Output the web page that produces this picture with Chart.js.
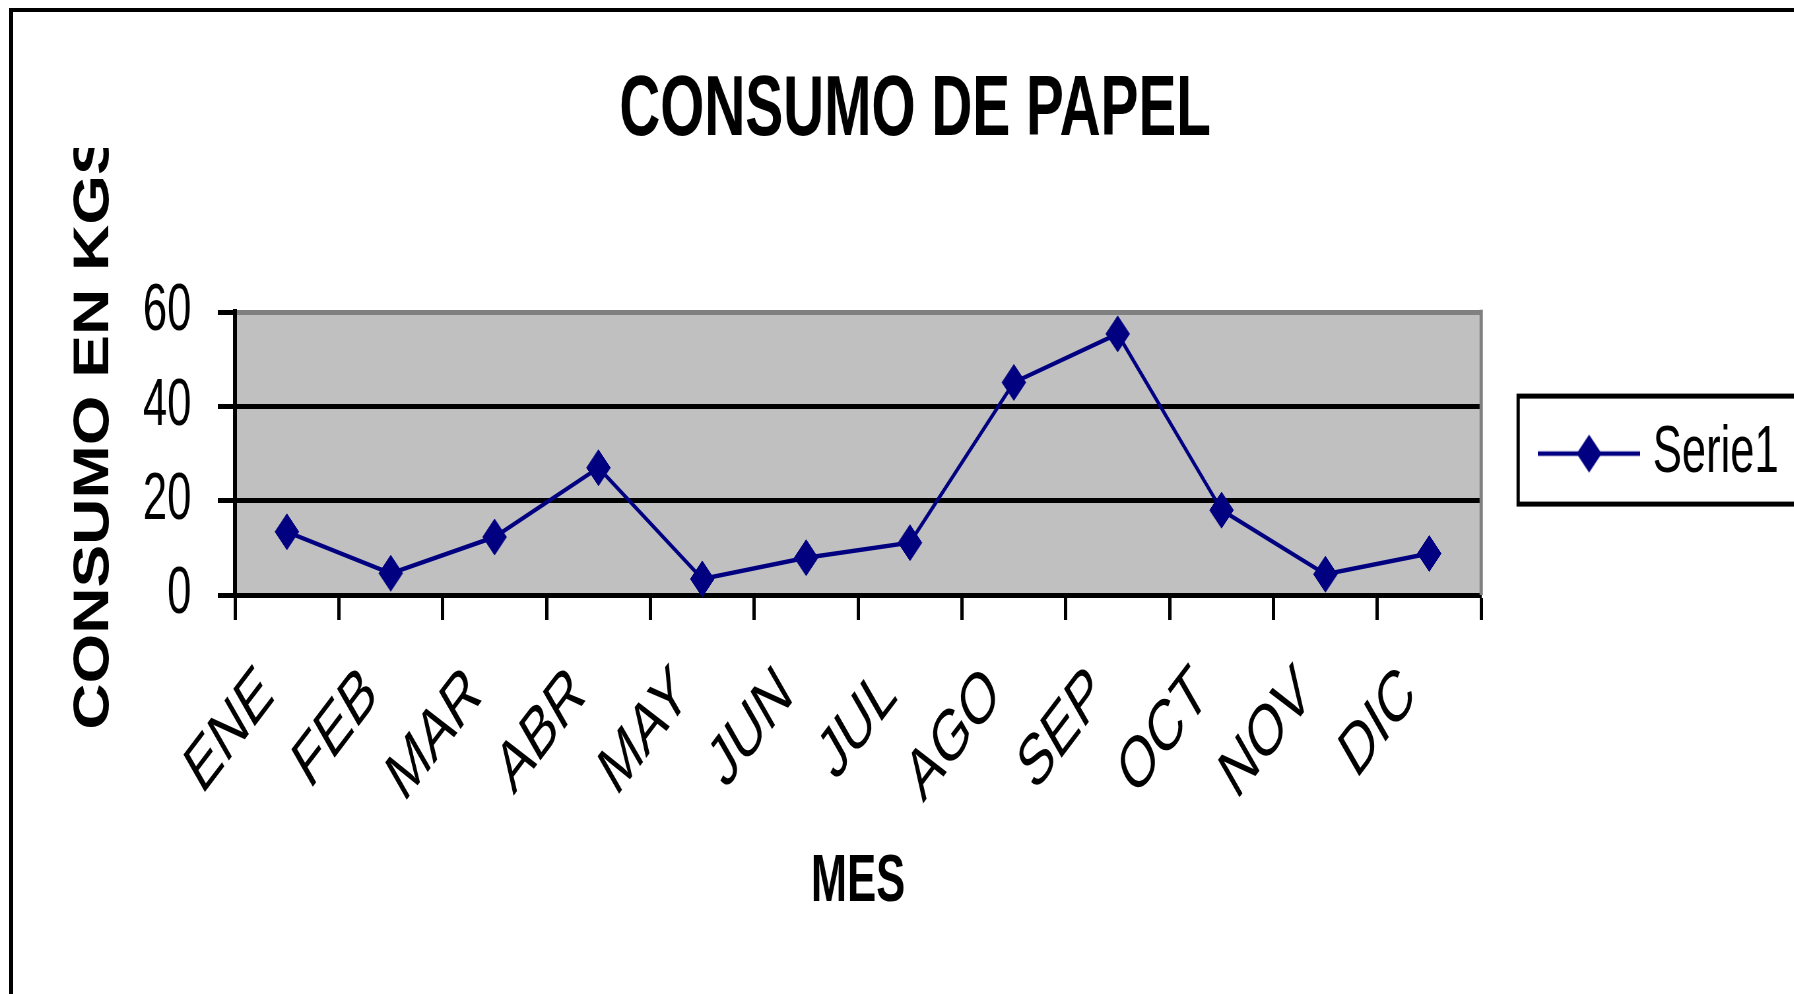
<!DOCTYPE html>
<html lang="es">
  <head>
    <meta charset="UTF-8" />
    <title>Consumo de papel</title>
    <script src="https://cdn.jsdelivr.net/npm/chart.js"></script>
    <style>
      html, body { margin: 0; padding: 0; background: #fff; overflow: hidden; }
      #marco { position: relative; width: 1794px; height: 994px; overflow: hidden; }
      #borde {
        position: absolute; left: 9px; top: 8px; width: 2000px; height: 2000px;
        border: 4px solid #000;
      }
      #grafico { position: absolute; left: 0; top: 0; transform: scaleX(0.66); transform-origin: 0 0; }
    </style>
  </head>
  <body>
    <div id="marco">
      <div id="borde"></div>
      <canvas id="grafico"></canvas>
    </div>

    <script>
      // datos
      const meses = ["ENE", "FEB", "MAR", "ABR", "MAY", "JUN", "JUL", "AGO", "SEP", "OCT", "NOV", "DIC"];
      const consumo = [13.4, 4.6, 12.3, 27.0, 3.4, 7.9, 11.1, 45.1, 55.4, 18.0, 4.4, 8.8];
      const yTicks = [0, 20, 40, 60];
      const titulo = "CONSUMO DE PAPEL";
      const tituloY = "CONSUMO EN KGS";
      const tituloX = "MES";
      const serie = "Serie1";

      // el grafico original esta "aplastado" en horizontal
      const SQ = 0.66;
      const W = Math.round(1830 / SQ);
      const H = 994;
      const FAM = "'Liberation Sans', Arial, sans-serif";
      const AZUL = "#000080";

      const canvas = document.getElementById("grafico");
      canvas.width = W;
      canvas.height = H;

      // muestra de la leyenda: linea + rombo
      const muestra = document.createElement("canvas");
      muestra.width = 155;
      muestra.height = 40;
      const m = muestra.getContext("2d");
      m.strokeStyle = AZUL;
      m.lineWidth = 4.5;
      m.beginPath();
      m.moveTo(0, 20);
      m.lineTo(155, 20);
      m.stroke();
      m.fillStyle = AZUL;
      m.beginPath();
      m.moveTo(77.5, 1);
      m.lineTo(96.5, 20);
      m.lineTo(77.5, 39);
      m.lineTo(58.5, 20);
      m.closePath();
      m.fill();

      // fondo gris y borde del area de trazado
      const areaPlugin = {
        id: "area",
        beforeDraw(chart) {
          const { ctx, chartArea: a } = chart;
          ctx.save();
          ctx.fillStyle = "#C0C0C0";
          ctx.fillRect(a.left, a.top, a.right - a.left, a.bottom - a.top);
          ctx.restore();
        },
        beforeDatasetsDraw(chart) {
          const { ctx, chartArea: a } = chart;
          ctx.save();
          ctx.strokeStyle = "#808080";
          ctx.lineWidth = 5;
          ctx.beginPath();
          ctx.moveTo(a.right, a.top - 2.5);
          ctx.lineTo(a.right, a.bottom);
          ctx.stroke();
          ctx.restore();
        },
        afterDraw(chart) {
          const ctx = chart.ctx;
          // titulo del eje Y (recortado arriba como en el original)
          ctx.save();
          ctx.beginPath();
          ctx.rect(0, 148, 400, H);
          ctx.clip();
          ctx.translate(143, 431);
          ctx.rotate(-Math.PI / 2);
          ctx.scale(1, 1.2);
          ctx.font = "bold 64px " + FAM;
          ctx.fillStyle = "#000";
          ctx.textAlign = "center";
          ctx.textBaseline = "middle";
          ctx.fillText(tituloY, 0, 0);
          ctx.restore();
          // recuadro de la leyenda
          const hb = chart.legend.legendHitBoxes[0];
          if (hb) {
            const cy = hb.top + hb.height / 2;
            ctx.save();
            ctx.strokeStyle = "#000";
            ctx.lineWidth = 5;
            ctx.strokeRect(hb.left - 44, cy - 57.5, W, 108);
            ctx.restore();
          }
        },
      };

      Chart.defaults.color = "#000";
      Chart.defaults.font.family = FAM;

      new Chart(canvas, {
        type: "line",
        data: {
          labels: meses,
          datasets: [
            {
              label: serie,
              data: consumo,
              borderColor: AZUL,
              backgroundColor: AZUL,
              borderWidth: 4.5,
              tension: 0,
              pointStyle: "rectRot",
              pointRadius: 18,
              pointBorderWidth: 1,
              pointBackgroundColor: AZUL,
              pointBorderColor: AZUL,
              clip: false,
            },
          ],
        },
        options: {
          responsive: false,
          animation: false,
          devicePixelRatio: 1,
          layout: { padding: { left: 68, right: 68, top: 0, bottom: 72 } },
          plugins: {
            title: {
              display: true,
              text: titulo,
              font: { size: 86, weight: "bold" },
              padding: { top: 60, bottom: 149 },
            },
            legend: {
              position: "right",
              fullSize: false,
              labels: {
                usePointStyle: true,
                pointStyle: muestra,
                pointStyleWidth: 127,
                padding: 100,
                font: { size: 66 },
              },
            },
            tooltip: { enabled: false },
          },
          scales: {
            x: {
              offset: true,
              grid: {
                offset: true,
                drawOnChartArea: false,
                drawTicks: true,
                tickLength: 25,
                tickWidth: 5,
                tickColor: "#000",
              },
              border: { color: "#000", width: 5 },
              ticks: {
                minRotation: 41,
                maxRotation: 41,
                padding: 31,
                labelOffset: -30,
                font: { size: 72 },
              },
              title: {
                display: true,
                text: tituloX,
                font: { size: 66, weight: "bold" },
                padding: { top: 0, bottom: 0 },
              },
              afterFit: (s) => {
                s.height = 327;
              },
            },
            y: {
              min: 0,
              max: 60,
              afterBuildTicks: (s) => {
                s.ticks = yTicks.map((v) => ({ value: v }));
              },
              grid: {
                color: (c) => (c.tick && c.tick.value === 60 ? "#808080" : "#000"),
                lineWidth: 5,
                tickColor: "#000",
                tickLength: 26,
              },
              border: { color: "#000", width: 6 },
              ticks: {
                padding: 40,
                font: { size: 66 },
              },
              afterFit: (s) => {
                s.width = 288;
              },
            },
          },
        },
        plugins: [areaPlugin],
      });
    </script>
  </body>
</html>
